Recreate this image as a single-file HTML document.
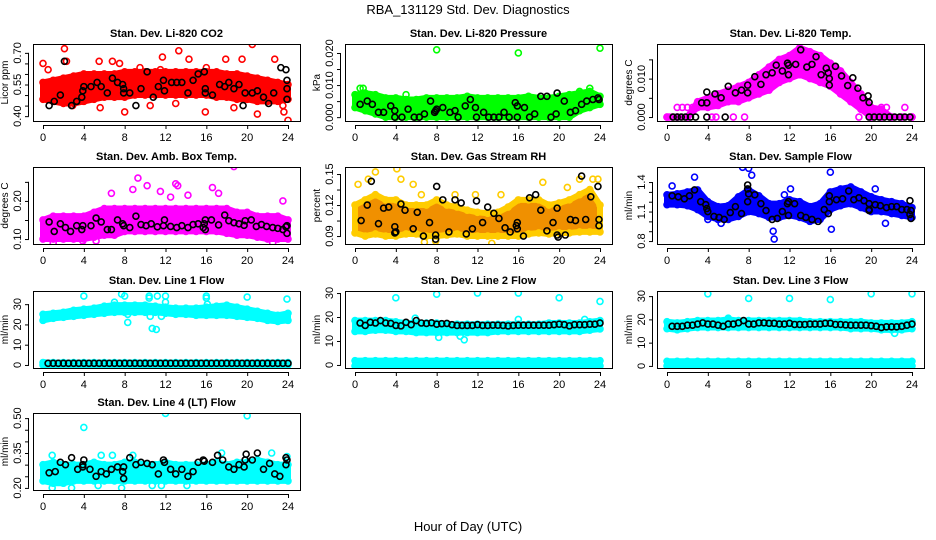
<!DOCTYPE html>
<html><head><meta charset="utf-8"><style>
html,body{margin:0;padding:0;background:#fff;}
svg{display:block;font-family:"Liberation Sans",sans-serif;}
</style></head><body>
<svg id="chart" width="936" height="540" viewBox="0 0 936 540">
<text x="468" y="14" text-anchor="middle" font-size="13">RBA_131129  Std. Dev. Diagnostics</text>
<text x="468" y="531" text-anchor="middle" font-size="13">Hour of Day (UTC)</text>
</svg>
<script>
const hours=[0,1,2,3,4,5,6,7,8,9,10,11,12,13,14,15,16,17,18,19,20,21,22,23,24];
const halfHours=[0.5,1,1.5,2,2.5,3,3.5,4,4.5,5,5.5,6,6.5,7,7.5,8,8.5,9,9.5,10,10.5,11,11.5,12,12.5,13,13.5,14,14.5,15,15.5,16,16.5,17,17.5,18,18.5,19,19.5,20,20.5,21,21.5,22,22.5,23,23.5,24];
const xTicks=[0,4,8,12,16,20,24];

// CO2
const co2Lo=[.48,.47,.46,.46,.47,.48,.49,.49,.49,.50,.50,.50,.50,.50,.50,.50,.50,.49,.49,.48,.48,.47,.47,.47,.48];
const co2Hi=[.56,.57,.58,.59,.60,.60,.60,.60,.61,.61,.61,.61,.61,.61,.61,.61,.61,.61,.60,.60,.59,.58,.57,.56,.55];
const co2Out=[[0,.65],[0.5,.62],[2.1,.72],[2.3,.66],[5.5,.66],[6.8,.66],[7.5,.65],[8,.42],[9.5,.63],[11.7,.68],[13.3,.71],[14.3,.67],[15.9,.42],[17.9,.67],[19.5,.67],[20.5,.74],[21,.41],[22.7,.67],[24,.38],[2.9,.45],[5.6,.44],[10.5,.45],[13,.46],[18.7,.44],[23.5,.45],[23.6,.42],[11.5,.62],[16,.63]];
const co2Blk=[[0.6,.45],[1.1,.47],[1.7,.50],[2.1,.66],[2.8,.45],[3.3,.47],[3.8,.49],[3.9,.52],[4,.54],[4.7,.54],[5.3,.56],[5.7,.54],[6.3,.51],[6.8,.58],[7.3,.56],[7.8,.55],[7.9,.53],[7.9,.51],[8.5,.51],[9.1,.45],[9.6,.53],[10.2,.61],[10.8,.49],[11.3,.54],[11.8,.57],[11.9,.52],[12.6,.56],[13.1,.56],[13.6,.56],[14.2,.51],[14.7,.57],[15.2,.60],[15.8,.61],[15.9,.53],[15.9,.51],[16.6,.50],[17.3,.55],[17.8,.54],[18.2,.56],[18.7,.53],[19.2,.55],[19.6,.45],[19.8,.51],[20.5,.51],[21,.52],[21.6,.49],[22.1,.46],[22.6,.51],[23.3,.63],[23.8,.62],[23.9,.57],[23.9,.53],[23.9,.48]];
// Pressure
const prLo=[.003,.002,.001,0,0,0,0,0,0,0,0,0,0,0,0,0,0,0,0,0,0,0,.002,.003,.004];
const prHi=[.007,.0075,.007,.006,.006,.0055,.0055,.006,.006,.006,.006,.0065,.006,.006,.006,.006,.006,.0065,.006,.006,.0065,.007,.0075,.008,.0065];
const prOut=[[8,.021],[16,.020],[24,.0215],[0.5,.009],[0.8,.009],[5,.007],[23,.009],[22,.008]];
const prBlk=[[0.5,.004],[1.2,.005],[1.7,.004],[2.3,.0015],[2.8,.0015],[3.5,.0035],[3.9,.002],[3.9,0],[4.6,0],[5.2,.0025],[5.8,0],[6.3,0],[6.8,.001],[7.4,.005],[7.8,.0015],[7.9,.002],[8,.0025],[8.6,.003],[9.3,.0015],[9.8,.002],[10.1,0],[10.8,.0035],[11.3,.0055],[11.8,.003],[11.9,0],[12.6,.0015],[13.1,0],[13.6,0],[14.1,0],[14.6,.0015],[15.1,0],[15.7,.0045],[15.9,.0035],[15.9,0],[16.6,.003],[17.1,0],[17.6,.001],[18.2,.0065],[18.8,.0065],[19.2,0],[19.7,.001],[19.8,.0075],[20.5,.005],[21.1,.0015],[21.6,.002],[22.2,.004],[22.7,.005],[23.3,.0055],[23.8,.006],[23.9,.0055]];
// Li-820 Temp
const tpLo=[0,0,0,.0025,.0025,.003,.004,.004,.005,.006,.007,.009,.010,.011,.010,.009,.008,.006,.004,.002,0,0,0,0,0];
const tpHi=[0,0,0,.004,.005,.006,.007,.008,.009,.011,.013,.015,.016,.018,.017,.016,.014,.012,.009,.006,.0025,.002,0,0,0];
const tpOut=[[0.2,0],[0.5,0],[1,.0025],[1.5,.0025],[2,.0025],[2.5,.0025],[3,.0025],[4.4,0],[4.8,0],[6.5,0],[7.6,0],[18.8,0],[21,.0025],[21.5,.0025],[23.3,.0025],[24,0],[20,0],[21,0],[22,0]];
const tpBlk=[[0.6,0],[1,0],[1.4,0],[1.8,0],[2.3,0],[2.8,0],[3.9,0],[5.7,0],[19.8,0],[20.3,0],[20.8,0],[21.3,0],[21.8,0],[22.3,0],[22.8,0],[23.3,0],[23.8,0],[3.4,.0037],[3.9,.0037],[3.9,.0065],[4.7,.006],[5.3,.005],[6,.008],[6.7,.0063],[7.3,.007],[7.9,.0083],[7.9,.0063],[8.6,.0105],[9.2,.0085],[9.7,.011],[10.3,.0115],[10.7,.0135],[11.3,.012],[11.8,.014],[11.9,.0135],[11.9,.011],[12.6,.0137],[13.1,.0175],[13.7,.013],[14.2,.0137],[14.6,.0157],[15.1,.011],[15.6,.0127],[15.8,.0115],[15.9,.01],[15.9,.0083],[16.5,.0132],[17.1,.0107],[17.7,.0082],[18.2,.0102],[18.7,.0075],[19.2,.005],[19.7,.0055],[19.8,.0038]];
// Amb box temp
const abLo=[.10,.10,.10,.10,.10,.105,.11,.11,.12,.12,.12,.12,.12,.12,.12,.12,.12,.12,.115,.11,.11,.105,.10,.10,.10];
const abHi=[.15,.16,.16,.16,.16,.17,.18,.18,.18,.18,.18,.18,.18,.18,.18,.18,.18,.18,.18,.17,.17,.16,.16,.16,.15];
const abOut=[[18.7,.29],[9.3,.26],[10.2,.24],[13.2,.24],[13,.245],[11.5,.225],[6.7,.22],[16.6,.235],[17.2,.22],[8.8,.23],[12.5,.21],[14.2,.215],[22.5,.09],[1,.09],[3.9,.095],[5.2,.095],[23.5,.20]];
const abBlk=[[0.6,.145],[1.1,.12],[1.7,.14],[2.2,.13],[2.7,.12],[3.3,.135],[3.8,.125],[3.9,.135],[4.7,.135],[5.2,.155],[5.7,.145],[6.3,.125],[6.7,.125],[7.3,.15],[7.8,.14],[7.9,.135],[8.5,.13],[9.1,.16],[9.6,.138],[10.1,.135],[10.6,.14],[11.2,.132],[11.8,.135],[11.9,.15],[12.5,.133],[13.1,.13],[13.6,.135],[14.2,.13],[14.7,.138],[15.2,.14],[15.7,.13],[15.8,.14],[15.9,.125],[15.9,.15],[16.5,.15],[17.2,.137],[17.8,.163],[18.2,.148],[18.7,.143],[19.2,.14],[19.7,.136],[19.8,.148],[20.4,.15],[20.9,.133],[21.4,.138],[21.9,.133],[22.5,.13],[23,.128],[23.5,.125],[23.8,.132],[23.9,.115],[23.9,.135]];
// RH
const rhLo=[.093,.090,.092,.090,.090,.092,.092,.090,.090,.091,.092,.090,.090,.090,.090,.090,.090,.092,.093,.092,.093,.093,.094,.094,.094];
const rhHi=[.12,.125,.13,.125,.125,.12,.12,.12,.125,.12,.118,.115,.113,.112,.113,.118,.125,.125,.125,.12,.122,.125,.13,.135,.12];
const rhOut=[[0.3,.14],[1.3,.145],[2,.152],[4.1,.155],[4.5,.145],[5.7,.14],[6.5,.13],[7.9,.085],[9.8,.13],[11.8,.13],[13.4,.083],[14.3,.13],[18.4,.142],[20.8,.137],[22,.145],[23.3,.145],[23.8,.145],[6.8,.084]];
const rhBlk=[[0.6,.105],[1.2,.12],[1.6,.143],[2.3,.102],[2.8,.117],[3.3,.118],[3.9,.099],[3.9,.093],[4,.094],[4.5,.121],[4.9,.115],[5.7,.097],[6.1,.113],[6.7,.09],[7.3,.103],[7.9,.091],[7.9,.087],[8,.138],[8.6,.125],[9.2,.094],[9.8,.125],[10.4,.122],[10.9,.092],[11.5,.097],[11.9,.124],[12.5,.103],[13,.118],[13.6,.112],[14.1,.107],[14.7,.098],[15.2,.094],[15.8,.1],[15.9,.103],[15.9,.097],[16.5,.09],[17.1,.127],[17.7,.13],[18.2,.115],[18.8,.095],[19.4,.103],[19.8,.117],[19.8,.091],[19.9,.089],[20.6,.091],[21.1,.106],[21.6,.105],[22.2,.148],[22.6,.106],[23.1,.128],[23.8,.138],[23.9,.1],[23.9,.106]];
// Sample flow
const sfLo=[1.17,1.17,1.16,1.12,1.05,1.02,1.02,1.05,1.1,1.08,1.04,1.04,1.06,1.04,1.0,1.02,1.12,1.16,1.18,1.14,1.1,1.1,1.08,1.06,1.04];
const sfHi=[1.27,1.28,1.3,1.32,1.2,1.15,1.16,1.25,1.32,1.26,1.18,1.18,1.22,1.2,1.15,1.18,1.3,1.33,1.35,1.3,1.25,1.22,1.2,1.18,1.14];
const sfOut=[[0.5,1.36],[2.7,1.45],[7.4,1.55],[8,1.54],[8.3,1.47],[10.5,.82],[10.4,.9],[11.5,1.27],[12.1,1.33],[16,1.5],[16.1,.92],[20.4,1.33],[21.4,.98],[4,1.02],[5.3,.98]];
const sfBlk=[[0.5,1.26],[1.1,1.25],[1.7,1.23],[2.2,1.26],[2.7,1.32],[3.3,1.2],[3.8,1.17],[3.9,1.13],[4,1.1],[4.6,1.05],[5.1,1.04],[5.6,1.02],[6.2,1.09],[6.7,1.15],[7.3,1.08],[7.9,1.37],[7.9,1.33],[7.9,1.2],[8,1.28],[8.6,1.27],[9.2,1.18],[9.7,1.11],[10.3,1.02],[10.8,1.03],[11.3,1.1],[11.8,1.18],[11.9,1.2],[11.9,1.06],[12.5,1.18],[13.1,1.06],[13.6,1.04],[14.2,1.02],[14.8,1.0],[15.4,1.12],[15.8,1.08],[15.9,1.2],[15.9,1.26],[16.6,1.22],[17.2,1.23],[17.8,1.31],[18.3,1.22],[18.8,1.24],[19.3,1.21],[19.8,1.18],[19.8,1.12],[19.8,1.11],[20.4,1.17],[20.9,1.16],[21.5,1.14],[22,1.15],[22.5,1.15],[23,1.12],[23.5,1.12],[23.8,1.21],[23.8,1.07],[23.9,1.11],[23.9,1.03]];
// Line 1
const l1Lo=[22,23,23.5,24,24.5,25,25.5,26,26,26,26,26,25.5,25,25,24.5,24.5,24.5,24.5,24,23.5,23,22,21.5,22];
const l1Hi=[25,25.5,26,27,27.5,28,29,29.5,29.5,29.5,29.5,29,28.5,28,28,28,28.5,29,29.5,28.5,27.5,26.5,25.5,24.5,25.5];
const l1ZeroLo=[0,0,0,0,0,0,0,0,0,0,0,0,0,0,0,0,0,0,0,0,0,0,0,0,0];
const l1ZeroHi=[1.2,1.2,1.2,1.2,1.2,1.2,1.2,1.2,1.2,1.2,1.2,1.2,1.2,1.2,1.2,1.2,1.2,1.2,1.2,1.2,1.2,1.2,1.2,1.2,1.2];
const l1Out=[[4,34],[7.7,35],[8,34],[8.3,25],[8.3,21],[10.4,34],[10.4,33],[10.7,18],[11.1,17.5],[11.2,34],[12,34],[12,31],[16,34],[16,33],[16.1,30],[20,33.5],[23.9,32.5],[7,31],[10.5,24],[11.6,24],[0.2,1]];
const l1BlkVals=[.8,.8,.8,.8,.8,.8,.8,.8,.8,.8,.8,.8,.8,.8,.8,.8,.8,.8,.8,.8,.8,.8,.8,.8,.8,.8,.8,.8,.8,.8,.8,.8,.8,.8,.8,.8,.8,.8,.8,.8,.8,.8,.8,.8,.8,.8,.8,.8];
// Line 2
const l2Lo=[14,14,14.5,14.5,14,14,13.5,13.5,13.5,13.5,13.5,13.5,13.5,13.5,14,14,14,14,14,14,14,14,14,14.5,15];
const l2Hi=[18.5,18.5,18.5,18.5,18,17.5,17.5,17.5,17.5,17,17,17,17,17,17,17,17,17,17,17.5,17.5,17.5,17.5,18,18.5];
const l2ZeroLo=[-.4,-.4,-.4,-.4,-.4,-.4,-.4,-.4,-.4,-.4,-.4,-.4,-.4,-.4,-.4,-.4,-.4,-.4,-.4,-.4,-.4,-.4,-.4,-.4,-.4];
const l2ZeroHi=[1.8,1.8,1.8,1.8,1.8,1.8,1.8,1.8,1.8,1.8,1.8,1.8,1.8,1.8,1.8,1.8,1.8,1.8,1.8,1.8,1.8,1.8,1.8,1.8,1.8];
const l2Out=[[4,28],[8,29.5],[12,30],[16,30],[20,28],[24,26.5],[8.2,11.5],[10.3,12],[10.7,10.5],[5.9,19.5],[16,19],[22.5,19]];
const l2BlkVals=[17.5,16.5,17.8,17.5,18.5,17.5,17.3,16.5,16.3,17.8,16.8,18.5,17.5,17.3,17.6,17,17.2,17.3,16.8,16.5,16.5,16.5,16.5,16.8,16.5,16.5,16.6,16.6,16.5,16.3,16.5,16.6,16.6,16.6,16.6,16.6,16.6,16.6,16.8,17,16.8,16.3,16.8,16.8,16.8,17,17,17.5];
// Line 3
const l3Lo=[16,15.5,16,16.5,16.5,16.5,16.5,16.5,16.5,16.5,16.5,16.5,16.5,16.5,16.5,16.5,16.5,16.5,16,16,16,15.5,15.5,15.5,16];
const l3Hi=[19,18.5,19,19.5,19.5,19.5,20,19.5,19.5,19.5,19.5,19.5,19.5,19.5,19,19,19,19,19,19,18.5,18.5,18.5,18.5,19];
const l3ZeroLo=[0,0,0,0,0,0,0,0,0,0,0,0,0,0,0,0,0,0,0,0,0,0,0,0,0];
const l3ZeroHi=[2,2,2,2,2,2,2,2,2,2,2,2,2,2,2,2,2,2,2,2,2,2,2,2,2];
const l3Out=[[4,31],[8,29],[12,29],[16,28.5],[20,31],[24,31],[22.3,14],[6,20.5]];
const l3BlkVals=[17,17,17,17.5,17.5,18,18.5,18,18,17.5,17,18,18,18.5,19.5,18,18,18.5,18.5,18.3,18.3,18,18,18.3,17.8,17.8,17.8,18,18,18,18.3,18.3,17.8,17.8,17.6,17.5,17.5,17.5,17.5,17.3,17,16.5,16.8,16.8,16.8,17,17.5,18];
// Line 4
const l4Lo=[.23,.22,.22,.23,.23,.23,.23,.23,.23,.23,.23,.23,.23,.23,.23,.23,.23,.23,.23,.23,.23,.23,.23,.23,.23];
const l4Hi=[.30,.31,.30,.30,.30,.31,.30,.30,.31,.31,.30,.30,.31,.30,.30,.30,.30,.31,.30,.31,.31,.32,.31,.30,.30];
const l4Out=[[4,.46],[12,.52],[20,.51],[0.9,.20],[5.4,.21],[7.7,.20],[8.8,.34],[6.8,.34],[5.7,.34],[0.9,.34],[17.5,.35],[22.4,.35],[23.9,.335],[10.7,.21],[11.6,.21],[14.1,.21],[2.8,.20]];
const l4Blk=[[0.6,.265],[1.2,.27],[1.7,.31],[2.2,.3],[2.8,.33],[3.4,.28],[3.9,.3],[3.9,.29],[4,.32],[4.6,.28],[5.2,.25],[5.7,.27],[6.2,.26],[6.7,.28],[7.3,.29],[7.8,.27],[7.9,.29],[7.9,.24],[8.5,.33],[9.1,.3],[9.6,.31],[10.2,.305],[10.7,.3],[11.3,.26],[11.8,.32],[11.9,.31],[12.5,.28],[13,.26],[13.6,.28],[14.2,.25],[14.7,.27],[15.2,.31],[15.7,.32],[15.8,.315],[16.6,.31],[17.1,.34],[17.6,.32],[18.2,.29],[18.7,.28],[19.2,.3],[19.7,.29],[19.8,.32],[19.9,.345],[20.5,.32],[21,.35],[21.6,.28],[22.2,.305],[22.7,.26],[23.2,.25],[23.8,.33],[23.8,.3],[23.9,.32]];

const NS='http://www.w3.org/2000/svg';
const svg=document.getElementById('chart');
function mk(tag,attrs,parent){const e=document.createElementNS(NS,tag);for(const k in attrs)e.setAttribute(k,attrs[k]);(parent||svg).appendChild(e);return e;}
const colL=[33,345,657], rowT=[44,167,291,413], BW=267, BH=77;

function panel(o){
  const L=colL[o.c], T=rowT[o.r];
  const g=mk('g',{});
  
  
  const xs=h=>L+10+h*(245/24);
  const ys=v=>T+BH-(v-o.yb)/(o.yt-o.yb)*BH;
  const clip='clip'+o.c+o.r;
  const cp=mk('clipPath',{id:clip},g); mk('rect',{x:L,y:T,width:BW,height:BH},cp);
  const pg=mk('g',{'clip-path':'url(#'+clip+')'},g);
  const bands=[[o.lo,o.hi]]; if(o.zlo) bands.push([o.zlo,o.zhi]);
  bands.forEach(([lo,hi])=>{
    let pts=hours.map((h,i)=>xs(h)+','+ys(hi[i])).join(' ')+' '+hours.slice().reverse().map((h,j)=>xs(h)+','+ys(lo[hours.length-1-j])).join(' ');
    const b=mk('polygon',{points:pts,fill:o.fill,stroke:o.col,'stroke-width':6,'stroke-linejoin':'round'},pg);
    
    
    hours.forEach((h,i)=>{[lo[i],hi[i]].forEach(v=>{
      const c=mk('circle',{cx:xs(h),cy:ys(v),r:3,fill:'none',stroke:o.col,'stroke-width':1.6},pg);
      
      
    });});
  });
  o.out.forEach(p=>{
    const c=mk('circle',{cx:xs(p[0]),cy:ys(p[1]),r:3,fill:'none',stroke:o.col,'stroke-width':1.6},pg);
    
    
  });
  const blk=o.blk||halfHours.map((h,i)=>[h,o.blkVals[i]]);
  blk.forEach(p=>{
    const c=mk('circle',{cx:xs(p[0]),cy:ys(p[1]),r:3,fill:'none',stroke:'#000','stroke-width':1.6},pg);
    
    
  });
  const box=mk('rect',{x:L+.5,y:T+.5,width:BW,height:BH,fill:'none',stroke:'#000','stroke-width':1},g);
  
  
  const t=mk('text',{x:L+BW/2,y:T-7,'text-anchor':'middle','font-size':11,'font-weight':'bold'},g); t.textContent=o.title;
  
  
  // x axis
  mk('line',{x1:xs(0),x2:xs(24),y1:T+BH+4.5,y2:T+BH+4.5,stroke:'#000'},g);
  xTicks.forEach(h=>{
    mk('line',{x1:xs(h)+.5,x2:xs(h)+.5,y1:T+BH+4,y2:T+BH+8,stroke:'#000'},g);
    const tx=mk('text',{x:xs(h),y:T+BH+20,'text-anchor':'middle','font-size':11},g); tx.textContent=h;
    
    
  });
  // y axis
  mk('line',{x1:L-4.5,x2:L-4.5,y1:ys(o.ticks[o.ticks.length-1]),y2:ys(o.ticks[0]),stroke:'#000'},g);
  o.ticks.forEach(v=>{
    mk('line',{x1:L-8,x2:L-4,y1:ys(v)+.5,y2:ys(v)+.5,stroke:'#000'},g);
  });
  o.labels.forEach(v=>{
    const y=ys(v);
    const tx=mk('text',{x:L-12,y:y,'text-anchor':'middle','font-size':11,transform:'rotate(-90 '+(L-12)+' '+y+')'},g);
    tx.textContent=v.toFixed(o.dec);
    
    
  });
  const yl=T+BH/2;
  const ya=mk('text',{x:L-25,y:yl,'text-anchor':'middle','font-size':10,transform:'rotate(-90 '+(L-25)+' '+yl+')'},g);
  ya.textContent=o.unit;
  
  
}
const RED='#ff0000',GRN='#00ff00',MAG='#ff00ff',BLU='#0000ff',CY='#00ffff';
panel({c:0,r:0,name:'co2',title:'Stan. Dev. Li-820 CO2',unit:'Licor ppm',yb:.377,yt:.742,ticks:[.40,.45,.50,.55,.60,.65,.70],labels:[.40,.55,.70],dec:2,col:RED,fill:RED,lo:co2Lo,hi:co2Hi,out:co2Out,blk:co2Blk});
panel({c:1,r:0,name:'pressure',title:'Stan. Dev. Li-820 Pressure',unit:'kPa',yb:-.0012,yt:.0228,ticks:[0,.005,.010,.015,.020],labels:[0,.010,.020],dec:3,col:GRN,fill:GRN,lo:prLo,hi:prHi,out:prOut,blk:prBlk});
panel({c:2,r:0,name:'li820-temp',title:'Stan. Dev. Li-820 Temp.',unit:'degrees C',yb:-.00103,yt:.019,ticks:[0,.005,.010,.015],labels:[0,.010],dec:3,col:MAG,fill:MAG,lo:tpLo,hi:tpHi,out:tpOut,blk:tpBlk});
panel({c:0,r:1,name:'amb-box-temp',title:'Stan. Dev. Amb. Box Temp.',unit:'degrees C',yb:.087,yt:.289,ticks:[.10,.15,.20,.25],labels:[.10,.20],dec:2,col:MAG,fill:MAG,lo:abLo,hi:abHi,out:abOut,blk:abBlk});
panel({c:1,r:1,name:'gas-rh',title:'Stan. Dev. Gas Stream RH',unit:'percent',yb:.0823,yt:.1568,ticks:[.09,.105,.12,.135,.15],labels:[.09,.12,.15],dec:2,col:'#ffcc00',fill:'#f09000',lo:rhLo,hi:rhHi,out:rhOut,blk:rhBlk});
panel({c:2,r:1,name:'sample-flow',title:'Stan. Dev. Sample Flow',unit:'ml/min',yb:.77,yt:1.553,ticks:[.8,.9,1.0,1.1,1.2,1.3,1.4],labels:[.8,1.1,1.4],dec:1,col:BLU,fill:BLU,lo:sfLo,hi:sfHi,out:sfOut,blk:sfBlk});
panel({c:0,r:2,name:'line1-flow',title:'Stan. Dev. Line 1 Flow',unit:'ml/min',yb:-1.5,yt:36.5,ticks:[0,10,20,30],labels:[0,10,20,30],dec:0,col:CY,fill:CY,lo:l1Lo,hi:l1Hi,zlo:l1ZeroLo,zhi:l1ZeroHi,out:l1Out,blkVals:l1BlkVals});
panel({c:1,r:2,name:'line2-flow',title:'Stan. Dev. Line 2 Flow',unit:'ml/min',yb:-1.27,yt:30.85,ticks:[0,10,20,30],labels:[0,10,20,30],dec:0,col:CY,fill:CY,lo:l2Lo,hi:l2Hi,zlo:l2ZeroLo,zhi:l2ZeroHi,out:l2Out,blkVals:l2BlkVals});
panel({c:2,r:2,name:'line3-flow',title:'Stan. Dev. Line 3 Flow',unit:'ml/min',yb:-.9,yt:32.2,ticks:[0,10,20,30],labels:[0,10,20,30],dec:0,col:CY,fill:CY,lo:l3Lo,hi:l3Hi,zlo:l3ZeroLo,zhi:l3ZeroHi,out:l3Out,blkVals:l3BlkVals});
panel({c:0,r:3,name:'line4-flow',title:'Stan. Dev. Line 4 (LT) Flow',unit:'ml/min',yb:.191,yt:.522,ticks:[.20,.25,.30,.35,.40,.45,.50],labels:[.20,.35,.50],dec:2,col:CY,fill:CY,lo:l4Lo,hi:l4Hi,out:l4Out,blk:l4Blk});
</script>
</body></html>
